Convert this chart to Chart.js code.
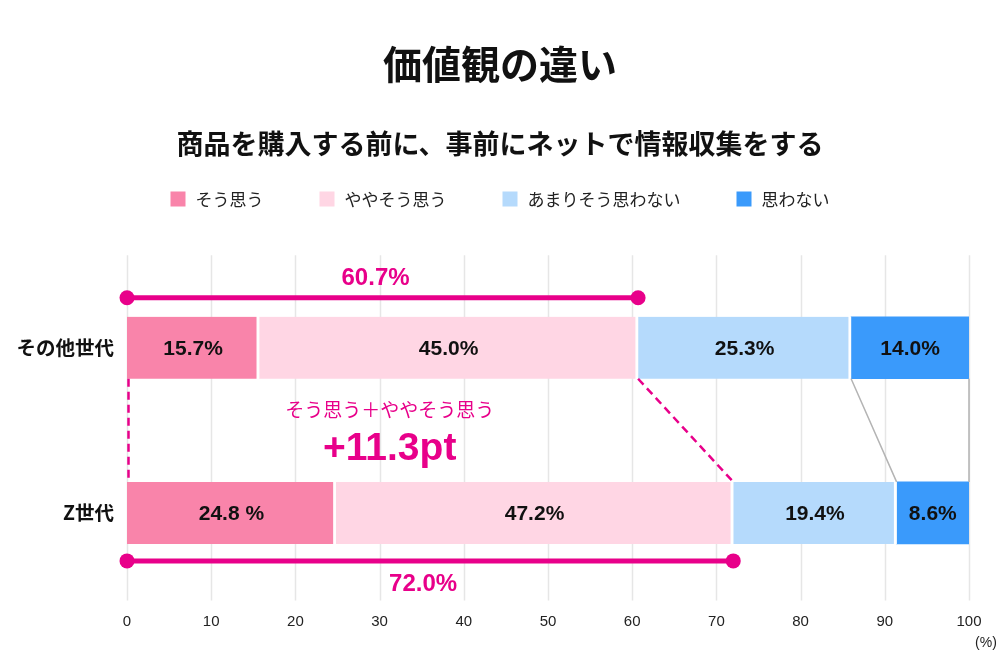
<!DOCTYPE html>
<html>
<head>
<meta charset="utf-8">
<script src="https://cdn.jsdelivr.net/npm/chart.js@4.4.1/dist/chart.umd.min.js"></script>
<style>
  html, body { margin: 0; padding: 0; background: #fff; }
</style>
</head>
<body>
<canvas id="chart" width="1000" height="653"></canvas>
<script>
(function () {
  'use strict';

  // data
  var generations = ['その他世代', 'Z世代'];
  var seriesNames = ['そう思う', 'ややそう思う', 'あまりそう思わない', '思わない'];
  var agree = [15.7, 24.8];
  var somewhatAgree = [45.0, 47.2];
  var somewhatDisagree = [25.3, 19.4];
  var disagree = [14.0, 8.6];
  var agreeText = ['15.7%', '24.8 %'];
  var agreeTotals = [60.7, 72.0];
  var diffCaption = 'そう思う＋ややそう思う';
  var diffLabel = '+11.3pt';
  var titleText = '価値観の違い';
  var subtitleText = '商品を購入する前に、事前にネットで情報収集をする';

  var colors = ['#f984aa', '#ffd6e4', '#b5dafc', '#3a9afb'];
  var magenta = '#e8008a';
  var jp = '"Noto Sans CJK JP", "Noto Sans", sans-serif';
  var num = '"Liberation Sans", Arial, sans-serif';

  var ctx = document.getElementById('chart').getContext('2d');

  function fmt(v) {
    return v.toFixed(1) + '%';
  }

  var seriesData = [agree, somewhatAgree, somewhatDisagree, disagree];
  var datasets = seriesData.map(function (d, i) {
    return {
      label: seriesNames[i],
      data: d,
      backgroundColor: colors[i],
      borderColor: '#fff',
      borderWidth: i < 3 ? { top: 0, bottom: 0, left: 0, right: 3 } : 0,
      borderSkipped: false,
      barThickness: 62
    };
  });

  var decor = {
    id: 'decor',
    beforeDatasetsDraw: function (chart) {
      var c = chart.ctx;
      var area = chart.chartArea;
      var xs = chart.scales.x;
      c.save();
      c.strokeStyle = '#e6e6e6';
      c.lineWidth = 1.5;
      xs.ticks.forEach(function (t) {
        var px = Math.round(xs.getPixelForValue(t.value)) + 0.5;
        c.beginPath();
        c.moveTo(px, area.top - 10);
        c.lineTo(px, area.bottom + 5);
        c.stroke();
      });
      c.restore();
    },
    afterDatasetsDraw: function (chart) {
      var c = chart.ctx;
      var xs = chart.scales.x;
      c.save();

      // values inside the bars
      c.font = 'bold 21px ' + num;
      c.fillStyle = '#111';
      c.textAlign = 'center';
      c.textBaseline = 'middle';
      chart.data.datasets.forEach(function (ds, di) {
        chart.getDatasetMeta(di).data.forEach(function (el, i) {
          var p = el.getProps(['x', 'y', 'base']);
          var txt = di === 0 ? agreeText[i] : fmt(ds.data[i]);
          c.fillText(txt, (p.x + p.base) / 2, p.y + 1);
        });
      });

      var top0 = chart.getDatasetMeta(0).data[0];
      var top1 = chart.getDatasetMeta(0).data[1];
      var yBottom0 = top0.y + top0.height / 2;
      var yTop1 = top1.y - top1.height / 2;
      var yTop0 = top0.y - top0.height / 2;
      var yBottom1 = top1.y + top1.height / 2;

      // grey connectors
      var cum0 = agree[0] + somewhatAgree[0] + somewhatDisagree[0];
      var cum1 = agree[1] + somewhatAgree[1] + somewhatDisagree[1];
      c.strokeStyle = '#b4b4b4';
      c.lineWidth = 1.5;
      c.beginPath();
      c.moveTo(xs.getPixelForValue(cum0), yBottom0);
      c.lineTo(xs.getPixelForValue(cum1), yTop1);
      c.moveTo(xs.getPixelForValue(100), yBottom0);
      c.lineTo(xs.getPixelForValue(100), yTop1);
      c.stroke();

      // magenta dashed connectors
      c.strokeStyle = magenta;
      c.lineWidth = 2.5;
      c.setLineDash([8, 5]);
      c.beginPath();
      c.moveTo(xs.getPixelForValue(0) + 1.5, yBottom0);
      c.lineTo(xs.getPixelForValue(0) + 1.5, yTop1);
      c.moveTo(xs.getPixelForValue(agreeTotals[0]), yBottom0);
      c.lineTo(xs.getPixelForValue(agreeTotals[1]), yTop1);
      c.stroke();
      c.setLineDash([]);

      // brackets
      function bracket(total, y, labelY) {
        var x0 = xs.getPixelForValue(0);
        var x1 = xs.getPixelForValue(total);
        c.strokeStyle = magenta;
        c.fillStyle = magenta;
        c.lineWidth = 5;
        c.beginPath();
        c.moveTo(x0, y);
        c.lineTo(x1, y);
        c.stroke();
        [x0, x1].forEach(function (x) {
          c.beginPath();
          c.arc(x, y, 7.5, 0, Math.PI * 2);
          c.fill();
        });
        c.font = 'bold 24px ' + num;
        c.textAlign = 'center';
        c.textBaseline = 'middle';
        c.fillText(fmt(total), (x0 + x1) / 2 - 7, labelY);
      }
      bracket(agreeTotals[0], yTop0 - 19, yTop0 - 38);
      bracket(agreeTotals[1], yBottom1 + 17, yBottom1 + 40);

      // difference annotation
      var midX = xs.getPixelForValue(31.2);
      c.fillStyle = magenta;
      c.textAlign = 'center';
      c.font = '19px ' + jp;
      c.fillText(diffCaption, midX, yBottom0 + 31);
      c.font = 'bold 39px ' + num;
      c.fillText(diffLabel, midX, yBottom0 + 70);

      c.restore();
    },
    afterDraw: function (chart) {
      var c = chart.ctx;
      var xs = chart.scales.x;
      c.save();

      // legend
      c.font = '17px ' + jp;
      c.textBaseline = 'middle';
      c.textAlign = 'left';
      var box = 15, gapText = 10, gapItem = 56;
      var widths = chart.data.datasets.map(function (ds) {
        return box + gapText + c.measureText(ds.label).width;
      });
      var total = widths.reduce(function (a, b) { return a + b; }, 0) + gapItem * (widths.length - 1);
      var x = chart.width / 2 - total / 2;
      var ly = 200;
      chart.data.datasets.forEach(function (ds, i) {
        c.fillStyle = ds.backgroundColor;
        c.fillRect(x, ly - box / 2 - 1, box, box);
        c.fillStyle = '#222';
        c.fillText(ds.label, x + box + gapText, ly);
        x += widths[i] + gapItem;
      });

      // unit
      c.font = '14px ' + num;
      c.fillStyle = '#222';
      c.textAlign = 'center';
      c.fillText('(%)', xs.right + 17, 643);
      c.restore();
    }
  };

  var myChart = new Chart(ctx, {
    type: 'bar',
    data: {
      labels: generations,
      datasets: datasets
    },
    options: {
      indexAxis: 'y',
      responsive: false,
      animation: false,
      layout: { padding: 0 },
      plugins: {
        legend: { display: false },
        tooltip: { enabled: false },
        title: {
          display: true,
          text: titleText,
          color: '#111',
          font: { family: jp, size: 39, weight: 'bold', lineHeight: 1.2 },
          padding: { top: 41, bottom: 40 }
        },
        subtitle: {
          display: true,
          text: subtitleText,
          color: '#111',
          font: { family: jp, size: 27, weight: 'bold', lineHeight: 1.2 },
          padding: { top: 0, bottom: 105 }
        }
      },
      scales: {
        x: {
          stacked: true,
          min: 0,
          max: 100,
          grid: { display: false },
          border: { display: false },
          ticks: {
            stepSize: 10,
            color: '#222',
            padding: 9,
            font: { family: num, size: 15 }
          },
          afterFit: function (s) { s.height = 57.5; }
        },
        y: {
          stacked: true,
          grid: { display: false },
          border: { display: false },
          ticks: {
            color: '#111',
            padding: 5,
            font: { family: jp, size: 19.5, weight: 'bold' }
          },
          afterFit: function (s) { s.width = 127; }
        },
        // empty right-hand axis that only reserves the margin
        yRight: {
          type: 'category',
          position: 'right',
          grid: { display: false },
          border: { display: false },
          ticks: { display: false },
          afterFit: function (s) { s.width = 31; }
        }
      }
    },
    plugins: [decor]
  });
}());
</script>
</body>
</html>
